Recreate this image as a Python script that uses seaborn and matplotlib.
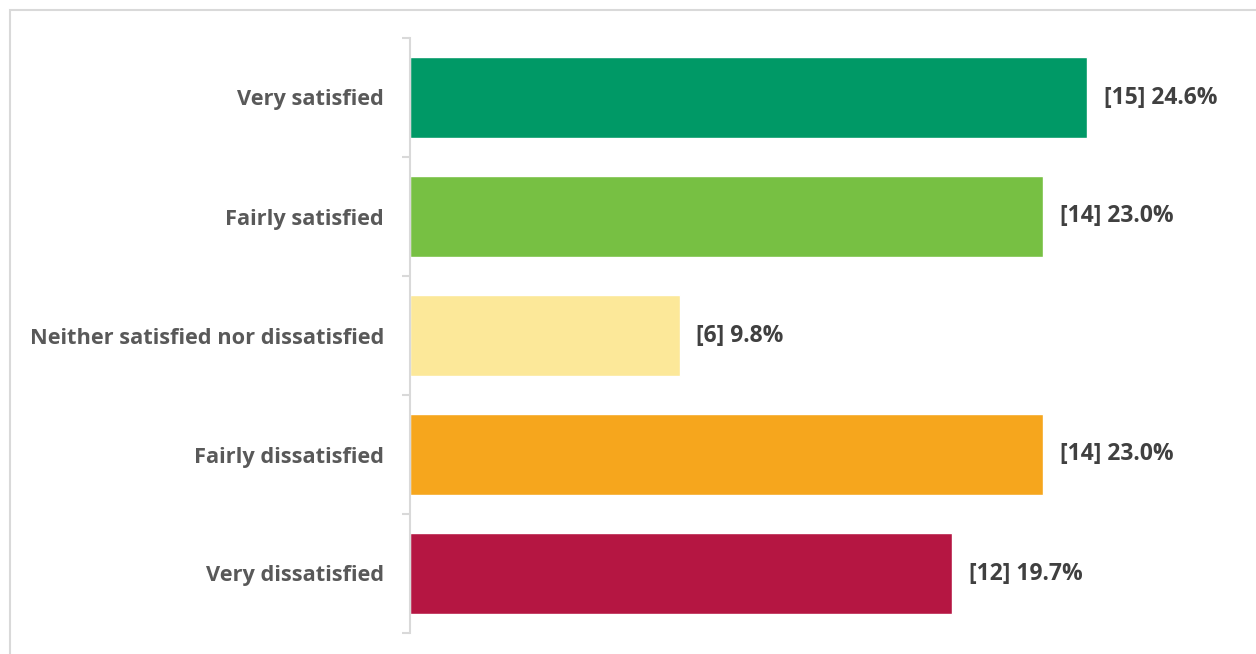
import matplotlib
matplotlib.use("Agg")
import matplotlib.pyplot as plt
import seaborn as sns
import pandas as pd
from matplotlib.patches import Rectangle
from matplotlib.ticker import FixedLocator

categories = ["Very satisfied", "Fairly satisfied", "Neither satisfied nor dissatisfied",
              "Fairly dissatisfied", "Very dissatisfied"]
counts = [15, 14, 6, 14, 12]
percents = [24.6, 23.0, 9.8, 23.0, 19.7]
colors = ["#009966", "#77C043", "#FCE899", "#F6A61D", "#B51642"]

sns.set_theme(style="white")
plt.rcParams['font.family'] = ['Open Sans', 'DejaVu Sans']

df = pd.DataFrame({"category": categories, "pct": percents})

fig = plt.figure(figsize=(12.56, 6.54), dpi=100)
fig.patches.append(Rectangle((10/1256, -0.1), 1.2, (644/654) + 0.1, transform=fig.transFigure,
                             fill=False, edgecolor="#D9D9D9", linewidth=1.5))
ax = fig.add_axes([410/1256, 21/654, 826/1256, 595/654])

sns.barplot(data=df, y="category", x="pct", hue="category", palette=colors,
            order=categories, hue_order=categories, legend=False, width=0.675,
            saturation=1, ax=ax)

ax.set_xlim(0, 30)
ax.set_ylim(len(categories) - 0.5, -0.5)
for s in ["top", "right", "bottom"]:
    ax.spines[s].set_visible(False)
ax.spines["left"].set_color("#D9D9D9")
ax.spines["left"].set_linewidth(1.5)
ax.set_xticks([])
ax.set_xlabel("")
ax.set_ylabel("")
ax.yaxis.set_minor_locator(FixedLocator([i - 0.5 for i in range(len(categories) + 1)]))
ax.tick_params(axis="y", which="major", length=0, pad=18.7, labelsize=15.7, labelcolor="#595959")
ax.tick_params(axis="y", which="minor", length=6, width=1.5, color="#D9D9D9", left=True)
for lab in ax.get_yticklabels():
    lab.set_fontweight("bold")

for i, (c, p) in enumerate(zip(counts, percents)):
    ax.annotate(f"[{c}] {p:.1f}%", xy=(p, i), xytext=(12, 0), textcoords="offset points",
                va="center", ha="left", fontsize=16.5, fontweight="bold", color="#404040")

fig.savefig("out.png", dpi=100)
